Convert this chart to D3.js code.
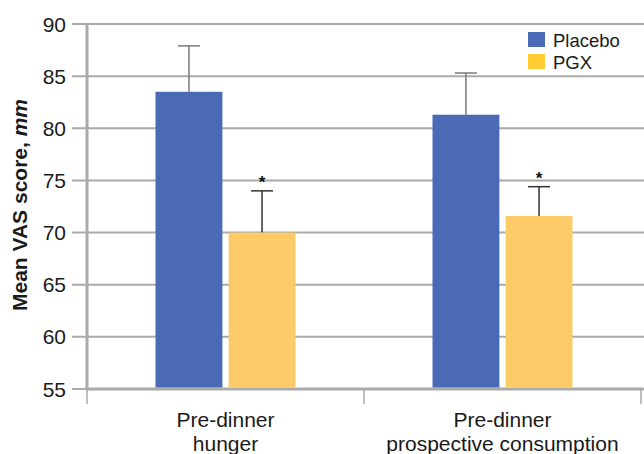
<!DOCTYPE html>
<html><head><meta charset="utf-8">
<script src="https://cdn.jsdelivr.net/npm/d3@7"></script>
<style>body{margin:0;background:#fff}svg{display:block;font-family:"Liberation Sans",Arial,sans-serif}</style>
</head><body><svg id="c" width="644" height="454"></svg>
<script>
const categories = ["Pre-dinner\nhunger", "Pre-dinner\nprospective consumption"];
const seriesNames = ["Placebo", "PGX"];
const placeboMeans = [83.5, 81.3];
const placeboErr = [4.4, 4.0];
const pgxMeans = [70.0, 71.6];
const pgxErr = [4.0, 2.8];
const significant = [true, true];
const yTicks = [55, 60, 65, 70, 75, 80, 85, 90];

(function () {
const colors = ["#4a6ab5", "#fdca68"];
const errColors = ["#7a7a7a", "#333333"];

const svg = d3.select("#c");
const mLeft = 87, mRight = 641, mTop = 24, mBottom = 389;
const y = d3.scaleLinear().domain([55, 90]).range([mBottom, mTop]);
const x0 = d3.scaleBand().domain(categories).range([mLeft, mRight]);
const x1 = d3.scaleBand().domain(seriesNames).range([0, 140]).paddingInner(0.085);

svg.append("g").selectAll("line").data(yTicks).join("line")
  .attr("x1", 72).attr("x2", 644).attr("y1", d => y(d)).attr("y2", d => y(d))
  .attr("stroke", "#aaaaaa").attr("stroke-width", 2);
svg.append("g").selectAll("text").data(yTicks).join("text")
  .attr("x", 66).attr("y", d => y(d)).attr("dy", "0.36em").attr("text-anchor", "end")
  .attr("font-size", 21).attr("fill", "#1a1a1a").text(d => d);

svg.append("line").attr("x1", mLeft).attr("x2", mLeft).attr("y1", mTop).attr("y2", mBottom + 1)
  .attr("stroke", "#aaaaaa").attr("stroke-width", 3);
svg.append("line").attr("x1", mLeft - 1).attr("x2", 644).attr("y1", mBottom).attr("y2", mBottom)
  .attr("stroke", "#aaaaaa").attr("stroke-width", 3);
const catEdges = [mLeft, ...categories.map(c => x0(c) + x0.bandwidth())];
svg.append("g").selectAll("line").data(catEdges).join("line")
  .attr("x1", d => d).attr("x2", d => d).attr("y1", mBottom).attr("y2", 404)
  .attr("stroke", "#aaaaaa").attr("stroke-width", 1.5);

const data = categories.map((c, i) => [
  {c, s: seriesNames[0], v: placeboMeans[i], e: placeboErr[i], k: 0, sig: false},
  {c, s: seriesNames[1], v: pgxMeans[i], e: pgxErr[i], k: 1, sig: significant[i]}
]).flat();
const bx = d => x0(d.c) + (x0.bandwidth() - 140) / 2 + x1(d.s);
const g = svg.append("g");
data.forEach(d => {
  const cx = bx(d) + x1.bandwidth() / 2;
  g.append("line").attr("x1", cx).attr("x2", cx).attr("y1", y(d.v)).attr("y2", y(d.v + d.e))
    .attr("stroke", errColors[d.k]).attr("stroke-width", 1.5);
  g.append("line").attr("x1", cx - 11).attr("x2", cx + 11).attr("y1", y(d.v + d.e)).attr("y2", y(d.v + d.e))
    .attr("stroke", errColors[d.k]).attr("stroke-width", 1.5);
  g.append("rect").attr("x", bx(d)).attr("width", x1.bandwidth())
    .attr("y", y(d.v)).attr("height", y(55) - y(d.v) - 1.5).attr("fill", colors[d.k]);
  if (d.sig) g.append("text").attr("x", cx).attr("y", y(d.v + d.e) - 3).attr("text-anchor", "middle")
    .attr("font-size", 17).attr("font-weight", "bold").attr("fill", "#111").text("*");
});

categories.forEach(c => {
  const lines = c.split("\n");
  const t = svg.append("text").attr("text-anchor", "middle").attr("font-size", 21).attr("fill", "#1a1a1a");
  lines.forEach((l, i) => t.append("tspan").attr("x", x0(c) + x0.bandwidth() / 2).attr("y", 427 + i * 24).text(l));
});

const yt = svg.append("text").attr("transform", "translate(27,205) rotate(-90)").attr("text-anchor", "middle")
  .attr("font-size", 21).attr("font-weight", "bold").attr("fill", "#1a1a1a");
yt.append("tspan").text("Mean VAS score, ");
yt.append("tspan").attr("font-style", "italic").text("mm");

seriesNames.forEach((s, i) => {
  svg.append("rect").attr("x", 528).attr("y", 32 + i * 22).attr("width", 17).attr("height", 15).attr("fill", i ? "#ffcc33" : colors[0]);
  svg.append("text").attr("x", 553).attr("y", 40 + i * 22).attr("dy", "0.36em").attr("font-size", 18.5).attr("fill", "#1a1a1a").text(s);
});
})();
</script></body></html>
